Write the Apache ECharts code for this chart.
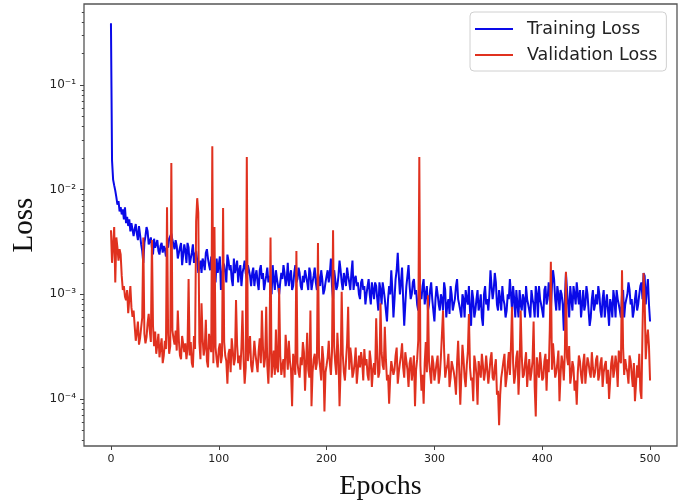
<!DOCTYPE html>
<html><head><meta charset="utf-8">
<script src="https://cdn.jsdelivr.net/npm/echarts@6/dist/echarts.min.js"></script>
<style>html,body{margin:0;padding:0;background:#fff}#c{width:691px;height:503px}</style>
</head><body><div id="c"></div>
<script>
// epochs: 0..20 every epoch, then every 2nd epoch up to 500
const epochs = [];
for (let e = 0; e <= 20; e++) epochs.push(e);
for (let e = 22; e <= 500; e += 2) epochs.push(e);
// odd epochs 21..499 (values in the *Odd arrays)
const oddEpochs = [];
for (let e = 21; e <= 499; e += 2) oddEpochs.push(e);

const trainingLoss = [
  0.39, 0.019, 0.0125, 0.011, 0.0098, 0.0085, 0.0072, 0.0078, 0.0062, 0.0068, 0.0058,
  0.0065, 0.0052, 0.0068, 0.0048, 0.0055, 0.0045, 0.0052, 0.0040, 0.0048, 0.0046,
  42e-4, 38e-4, 45e-4, 30e-4, 20e-4, 36e-4, 40e-4, 32e-4, 28e-4, 34e-4, 30e-4, 26e-4, 29e-4, 25e-4, 27e-4,
  30e-4, 34e-4, 38e-4, 30e-4, 33e-4, 22e-4, 28e-4, 19e-4, 30e-4, 20e-4, 28e-4, 22e-4, 30e-4, 24e-4, 21e-4,
  18e-4, 16e-4, 20e-4, 25e-4, 22e-4, 17e-4, 20e-4, 15e-4, 22e-4, 19e-4,
  11e-4, 20e-4, 16e-4, 24e-4, 17e-4, 14e-4, 22e-4, 18e-4, 13e-4, 19e-4, 16e-4, 21e-4, 14e-4, 17e-4, 12e-4,
  18e-4, 15e-4, 13e-4, 17e-4, 14e-4, 11e-4, 15e-4, 13e-4, 12e-4, 19e-4, 11e-4, 14e-4, 10e-4,
  16e-4, 19e-4, 12e-4, 20e-4, 15e-4, 11e-4, 16e-4, 13e-4, 18e-4, 12e-4, 15e-4, 17e-4, 13e-4, 18e-4, 11e-4, 15e-4, 13e-4, 16e-4, 12e-4, 14e-4, 11e-4, 15e-4,
  13e-4, 22e-4, 9e-4, 14e-4, 12e-4, 21e-4, 13e-4, 16e-4, 12e-4, 15e-4, 11e-4, 21e-4, 14e-4, 12e-4, 10e-4, 13e-4, 11e-4, 8e-4, 12e-4, 10e-4, 13e-4, 9e-4, 12e-4, 7e-4, 11e-4,
  13e-4, 9e-4, 5.5e-4, 12e-4, 17e-4, 6e-4, 14e-4, 25e-4, 10e-4, 18e-4, 5e-4, 12e-4, 19e-4, 9e-4, 13e-4, 10e-4, 8e-4, 12e-4, 9e-4, 14e-4, 10e-4, 7e-4, 11e-4, 9e-4, 5.5e-4,
  12e-4, 8e-4, 10e-4, 7e-4, 11e-4, 8e-4, 6.5e-4, 10e-4, 8e-4, 12e-4, 9e-4, 7e-4, 10e-4, 6e-4, 9e-4, 12e-4, 5e-4, 9e-4, 7e-4, 11e-4, 8e-4, 6e-4, 10e-4, 8e-4, 7e-4,
  17e-4, 9e-4, 16e-4, 8e-4, 11e-4, 7e-4, 9e-4, 6e-4, 10e-4, 14e-4, 7e-4, 9e-4, 11e-4, 6e-4, 8e-4, 10e-4, 6e-4, 9e-4, 7e-4, 11e-4, 8e-4, 12e-4, 6e-4, 9e-4, 7e-4,
  11e-4, 8e-4, 13e-4, 7e-4, 17e-4, 9e-4, 12e-4, 7e-4, 10e-4, 4.5e-4, 16e-4, 8e-4, 12e-4, 7e-4, 10e-4, 13e-4, 8e-4, 6e-4, 11e-4, 8e-4, 10e-4, 5e-4, 9e-4, 7e-4, 10e-4,
  12e-4, 7e-4, 9e-4, 6e-4, 10e-4, 5e-4, 8e-4, 11e-4, 6e-4, 9e-4, 7e-4, 10e-4, 6e-4, 9e-4, 13e-4, 8e-4, 6e-4, 9e-4, 7e-4, 10e-4, 13e-4, 16e-4, 8e-4, 14e-4, 5.5e-4
];

const trainingLossOdd = [
  36e-4, 47e-4, 33e-4, 37e-4, 26e-4, 31e-4, 44e-4, 30e-4, 35e-4, 24e-4, 28e-4, 33e-4, 24e-4, 31e-4, 29e-4,
  23e-4, 28e-4, 36e-4, 33e-4, 27e-4, 29e-4, 25e-4, 31e-4, 24e-4, 26e-4, 31e-4, 19e-4, 25e-4, 20e-4, 26e-4,
  16e-4, 21e-4, 22e-4, 17e-4, 27e-4, 19e-4, 23e-4, 18e-4, 13e-4, 16e-4,
  23e-4, 15e-4, 19e-4, 13e-4, 21e-4, 19e-4, 12e-4, 16e-4, 21e-4, 17e-4, 12e-4, 18e-4, 16e-4, 19e-4, 15e-4,
  16e-4, 12e-4, 17e-4, 11e-4, 19e-4, 16e-4, 13e-4, 18e-4, 15e-4, 10e-4, 14e-4, 17e-4, 12e-4,
  13e-4, 14e-4, 16e-4, 14e-4, 12e-4, 17e-4, 12e-4, 19e-4, 14e-4, 16e-4, 11e-4, 13e-4, 15e-4, 11e-4, 16e-4, 13e-4, 18e-4, 11e-4, 14e-4, 17e-4, 10e-4, 13e-4,
  17e-4, 16e-4, 12e-4, 17e-4, 11e-4, 15e-4, 17e-4, 11e-4, 14e-4, 18e-4, 13e-4, 16e-4, 11e-4, 15e-4, 13e-4, 9e-4, 14e-4, 12e-4, 10e-4, 14e-4, 8e-4, 11e-4, 13e-4, 9e-4, 13e-4,
  8e-4, 11e-4, 7e-4, 9e-4, 10e-4, 11e-4, 9e-4, 17e-4, 15e-4, 13e-4, 9e-4, 8e-4, 15e-4, 12e-4, 10e-4, 14e-4, 11e-4, 7e-4, 10e-4, 12e-4, 8e-4, 12e-4, 8e-4, 13e-4, 7e-4,
  9e-4, 10e-4, 7e-4, 9e-4, 13e-4, 6e-4, 9e-4, 12e-4, 7e-4, 9e-4, 14e-4, 8e-4, 6e-4, 9e-4, 11e-4, 8e-4, 7e-4, 11e-4, 6e-4, 9e-4, 7e-4, 10e-4, 5e-4, 12e-4, 9e-4,
  10e-4, 12e-4, 11e-4, 13e-4, 7e-4, 9e-4, 12e-4, 8e-4, 7e-4, 9e-4, 10e-4, 12e-4, 6e-4, 8e-4, 11e-4, 7e-4, 9e-4, 12e-4, 8e-4, 6e-4, 9e-4, 6e-4, 10e-4, 12e-4, 8e-4,
  6e-4, 12e-4, 9e-4, 10e-4, 12e-4, 14e-4, 7e-4, 10e-4, 11e-4, 8e-4, 9e-4, 11e-4, 6e-4, 9e-4, 12e-4, 8e-4, 10e-4, 11e-4, 8e-4, 7e-4, 12e-4, 7e-4, 6e-4, 11e-4, 8e-4,
  8e-4, 10e-4, 6e-4, 11e-4, 8e-4, 7e-4, 9e-4, 6e-4, 9e-4, 11e-4, 8e-4, 6e-4, 11e-4, 8e-4, 10e-4, 11e-4, 9e-4, 7e-4, 11e-4, 8e-4, 12e-4, 9e-4, 15e-4, 11e-4, 8e-4
];

const validationLoss = [
  41e-4, 20e-4, 30e-4, 44e-4, 13e-4, 35e-4, 28e-4, 21e-4, 27e-4, 24e-4, 15e-4,
  11e-4, 12e-4, 9.5e-4, 8.8e-4, 11e-4, 6.6e-4, 9e-4, 12e-4, 7.5e-4, 6.1e-4,
  5e-4, 4.3e-4, 3.3e-4, 4.8e-4, 35e-4, 3.4e-4, 5.3e-4, 4.5e-4, 33e-4, 3.2e-4, 2.7e-4, 4.2e-4, 3.1e-4, 2.2e-4, 3.6e-4,
  68e-4, 2.7e-4, 180e-4, 3.8e-4, 4.5e-4, 7e-4, 2.6e-4, 4e-4, 2.8e-4, 2.4e-4, 14e-4, 3.5e-4, 2e-4, 3e-4, 83e-4,
  3.5e-4, 8.2e-4, 2.6e-4, 5.7e-4, 2e-4, 3.2e-4, 260e-4, 44e-4, 2.4e-4, 3e-4,
  2.2e-4, 67e-4, 2.6e-4, 1.4e-4, 3e-4, 3.8e-4, 2.1e-4, 8.8e-4, 2.2e-4, 1.9e-4, 7e-4, 1.4e-4, 205e-4, 3e-4, 2.1e-4,
  2.4e-4, 2.7e-4, 1.8e-4, 3.8e-4, 7e-4, 2e-4, 7.6e-4, 1.4e-4, 35e-4, 2.2e-4, 1.7e-4, 2e-4, 11.5e-4,
  1.7e-4, 2.4e-4, 4.1e-4, 1.9e-4, 2.3e-4, 0.85e-4, 2.2e-4, 26e-4, 1.8e-4, 2.5e-4, 3.5e-4, 1.2e-4, 4.3e-4, 1.6e-4, 0.85e-4, 2.4e-4, 1.9e-4, 31e-4, 2e-4, 3.2e-4, 0.76e-4, 2.1e-4,
  3.6e-4, 1.7e-4, 41e-4, 2.2e-4, 4.3e-4, 0.85e-4, 10.6e-4, 1.8e-4, 2.3e-4, 7.6e-4, 3.1e-4, 1.6e-4, 2.2e-4, 1.4e-4, 2.6e-4, 2.8e-4, 1.5e-4, 2.1e-4, 1.7e-4, 2.9e-4, 1.3e-4, 2.2e-4, 5.9e-4, 1.6e-4, 8.2e-4,
  2.1e-4, 4.9e-4, 1.5e-4, 0.9e-4, 2.3e-4, 1.7e-4, 2.6e-4, 1.4e-4, 2.2e-4, 3.4e-4, 1.6e-4, 2.3e-4, 1.3e-4, 2.5e-4, 1.9e-4, 0.85e-4, 2.4e-4, 205e-4, 1.2e-4, 0.9e-4, 3.5e-4, 9.8e-4, 1.8e-4, 2.6e-4, 1.5e-4,
  2.2e-4, 1.4e-4, 2.5e-4, 7e-4, 1.6e-4, 2.1e-4, 1.3e-4, 2.3e-4, 1.8e-4, 1.1e-4, 3.6e-4, 0.88e-4, 3.3e-4, 1.6e-4, 2.1e-4, 6.5e-4, 1.5e-4, 0.95e-4, 2.2e-4, 0.88e-4, 1.9e-4, 2.7e-4, 1.5e-4, 2.6e-4, 1.4e-4,
  2.4e-4, 1.6e-4, 2e-4, 1.1e-4, 0.56e-4, 1.6e-4, 2.3e-4, 1.3e-4, 2.1e-4, 1.7e-4, 7.6e-4, 1.4e-4, 2.5e-4, 1.1e-4, 7e-4, 1.6e-4, 2.2e-4, 1.3e-4, 2.4e-4, 1.8e-4, 5.5e-4, 0.68e-4, 1.9e-4, 2.8e-4, 1.5e-4,
  2.3e-4, 1.2e-4, 1.8e-4, 20.5e-4, 3.4e-4, 1.6e-4, 2.2e-4, 0.95e-4, 2.6e-4, 1.5e-4, 16.4e-4, 2.1e-4, 1.4e-4, 2.3e-4, 1.2e-4, 0.88e-4, 2.6e-4, 1.7e-4, 2.2e-4, 1.4e-4, 2.5e-4, 1.8e-4, 2.8e-4, 1.6e-4, 2.4e-4,
  1.5e-4, 2.2e-4, 1.3e-4, 2.1e-4, 1.4e-4, 1.0e-4, 2.2e-4, 1.6e-4, 2.6e-4, 1.3e-4, 2.4e-4, 17e-4, 1.7e-4, 2.0e-4, 1.4e-4, 2.3e-4, 1.3e-4, 0.95e-4, 2.1e-4, 2.7e-4, 1.0e-4, 16e-4, 2.4e-4, 4.6e-4, 1.5e-4
];

const validationLossOdd = [
  7e-4, 3.6e-4, 5.5e-4, 3.8e-4, 6e-4, 4.2e-4, 3.9e-4, 6.5e-4, 3.5e-4, 5e-4, 4.4e-4, 3.3e-4, 2.5e-4, 3.8e-4, 2.6e-4,
  3e-4, 4.2e-4, 3.2e-4, 4.5e-4, 3.3e-4, 2.9e-4, 3.6e-4, 2.4e-4, 3.9e-4, 3.4e-4, 3e-4, 2.6e-4, 2.2e-4, 4e-4, 50e-4,
  60e-4, 2.4e-4, 3.8e-4, 3.1e-4, 2.3e-4, 4.2e-4, 2.8e-4, 2.2e-4, 3.1e-4, 2e-4,
  3.4e-4, 2.6e-4, 3.5e-4, 2.3e-4, 2.7e-4, 1.8e-4, 2.9e-4, 2.4e-4, 3.3e-4, 2.6e-4, 3.1e-4, 2.4e-4, 2.0e-4, 2.3e-4, 4e-4,
  1.8e-4, 3.6e-4, 2.2e-4, 2.9e-4, 2.2e-4, 3.1e-4, 2.5e-4, 2.1e-4, 2.8e-4, 1.6e-4, 2.9e-4, 4.6e-4, 1.8e-4,
  2.6e-4, 2.1e-4, 1.6e-4, 2.8e-4, 3.6e-4, 1.9e-4, 2.7e-4, 1.7e-4, 2.2e-4, 1.6e-4, 2.1e-4, 2.8e-4, 2.2e-4, 1.9e-4, 7e-4, 1.8e-4, 2.7e-4, 2.2e-4, 2.5e-4, 1.5e-4, 2.4e-4, 1.8e-4,
  2.5e-4, 2.2e-4, 2.8e-4, 3.2e-4, 1.7e-4, 2.6e-4, 1.9e-4, 2.7e-4, 1.5e-4, 3.4e-4, 1.9e-4, 2.5e-4, 1.8e-4, 3.1e-4, 1.9e-4, 2.0e-4, 2.3e-4, 3.0e-4, 2.4e-4, 1.5e-4, 2.3e-4, 1.9e-4, 1.7e-4, 2.6e-4, 1.8e-4,
  2.8e-4, 1.9e-4, 2.4e-4, 1.7e-4, 1.6e-4, 2.4e-4, 1.9e-4, 3.1e-4, 1.8e-4, 2.6e-4, 2.0e-4, 2.8e-4, 1.9e-4, 2.2e-4, 1.5e-4, 2.6e-4, 1.9e-4, 3.6e-4, 2.1e-4, 1.7e-4, 2.2e-4, 1.8e-4, 2.3e-4, 1.4e-4, 2.2e-4,
  1.8e-4, 2.6e-4, 1.7e-4, 2.4e-4, 2.9e-4, 1.9e-4, 2.7e-4, 1.6e-4, 2.4e-4, 1.5e-4, 2.2e-4, 1.9e-4, 1.7e-4, 2.4e-4, 1.3e-4, 2.8e-4, 2.0e-4, 1.6e-4, 2.6e-4, 1.7e-4, 2.3e-4, 1.6e-4, 2.1e-4, 1.8e-4, 2.5e-4,
  1.8e-4, 2.8e-4, 1.5e-4, 2.4e-4, 1.2e-4, 1.1e-4, 1.9e-4, 2.7e-4, 1.6e-4, 2.8e-4, 3.2e-4, 2.2e-4, 1.7e-4, 2.9e-4, 2.0e-4, 2.6e-4, 1.7e-4, 2.8e-4, 1.9e-4, 1.5e-4, 2.3e-4, 1.3e-4, 2.5e-4, 1.6e-4, 2.1e-4,
  1.6e-4, 2.7e-4, 2.4e-4, 4.5e-4, 1.9e-4, 2.4e-4, 1.8e-4, 2.9e-4, 1.7e-4, 2.2e-4, 2.8e-4, 2.5e-4, 3.2e-4, 1.7e-4, 2.0e-4, 1.5e-4, 1.8e-4, 2.3e-4, 1.4e-4, 2.7e-4, 1.9e-4, 2.2e-4, 1.6e-4, 2.0e-4, 1.8e-4,
  2.6e-4, 1.7e-4, 2.5e-4, 1.8e-4, 2.3e-4, 1.9e-4, 1.5e-4, 2.6e-4, 1.9e-4, 2.1e-4, 2.9e-4, 2.2e-4, 3.1e-4, 2.4e-4, 1.8e-4, 2.6e-4, 1.7e-4, 2.2e-4, 1.4e-4, 1.6e-4, 1.2e-4, 4.5e-4, 9e-4, 3.6e-4, 3.2e-4
];

const xTickValues = [0, 100, 200, 300, 400, 500];
const yTickValues = [1e-4, 1e-3, 1e-2, 1e-1];
const yTickLabels = ['10\u207B\u2074', '10\u207B\u00B3', '10\u207B\u00B2', '10\u207B\u00B9'];
const yMinorTicks = [];
for (let k = -5; k <= -1; k++) for (let m = 2; m <= 9; m++) {
  const v = m * Math.pow(10, k);
  if (v > 3.55e-5 && v < 0.596) yMinorTicks.push(v);
}

function mergeSeries(evenVals, oddVals) {
  const pts = epochs.map((e, i) => [e, evenVals[i]]).concat(oddEpochs.map((e, i) => [e, oddVals[i]]));
  pts.sort((a, b) => a[0] - b[0]);
  return pts;
}

const chart = echarts.init(document.getElementById('c'), null, {renderer: 'canvas'});
chart.setOption({
  animation: false,
  backgroundColor: '#fff',
  grid: {left: 84, top: 4, right: 14, bottom: 57, show: true, borderColor: '#555', borderWidth: 1.3,
         containLabel: false, outerBoundsMode: 'none'},
  legend: {
    orient: 'vertical', left: 470, top: 12,
    backgroundColor: '#fff', borderColor: '#d0d0d0', borderWidth: 1, borderRadius: 4,
    padding: [7, 9, 6, 5], itemGap: 6, itemWidth: 38, itemHeight: 2, icon: 'rect',
    textStyle: {fontFamily: 'DejaVu Sans', fontSize: 17.5, color: '#222', padding: [0, 0, 0, 9], lineHeight: 20},
    data: ['Training Loss', 'Validation Loss']
  },
  xAxis: {
    type: 'value', min: -25, max: 525,
    name: 'Epochs', nameLocation: 'middle', nameGap: 27,
    nameTextStyle: {fontFamily: 'Liberation Serif', fontSize: 28, color: '#111'},
    axisLine: {show: false, onZero: false},
    splitLine: {show: false},
    axisTick: {show: true, length: 4, lineStyle: {color: '#444'}, customValues: xTickValues},
    axisLabel: {margin: 8, customValues: xTickValues, fontFamily: 'DejaVu Sans', fontSize: 11, color: '#222'}
  },
  yAxis: [{
    type: 'log', min: 3.55e-5, max: 0.596,
    name: 'Loss', nameLocation: 'middle', nameGap: 40,
    nameTextStyle: {fontFamily: 'Liberation Serif', fontSize: 29, color: '#111'},
    axisLine: {show: false, onZero: false},
    splitLine: {show: false},
    axisTick: {show: true, length: 4, lineStyle: {color: '#444'}, customValues: yTickValues},
    axisLabel: {margin: 8, customValues: yTickValues, fontFamily: 'DejaVu Sans', fontSize: 12, color: '#222',
      formatter: function (v) { const i = yTickValues.findIndex(t => Math.abs(Math.log10(t) - Math.log10(v)) < 1e-6); return i >= 0 ? yTickLabels[i] : ''; }}
  }, {
    type: 'log', min: 3.55e-5, max: 0.596, position: 'left', offset: 0,
    axisLine: {show: false, onZero: false}, splitLine: {show: false},
    axisLabel: {show: false},
    axisTick: {show: true, length: 2.2, lineStyle: {color: '#444'}, customValues: yMinorTicks}
  }],
  series: [{
    name: 'Training Loss', type: 'line', showSymbol: false, symbol: 'none',
    lineStyle: {color: '#0a0ae8', width: 2}, itemStyle: {color: '#0a0ae8'},
    data: mergeSeries(trainingLoss, trainingLossOdd)
  }, {
    name: 'Validation Loss', type: 'line', showSymbol: false, symbol: 'none',
    lineStyle: {color: '#e0311f', width: 2}, itemStyle: {color: '#e0311f'},
    data: mergeSeries(validationLoss, validationLossOdd)
  }]
});
</script></body></html>
